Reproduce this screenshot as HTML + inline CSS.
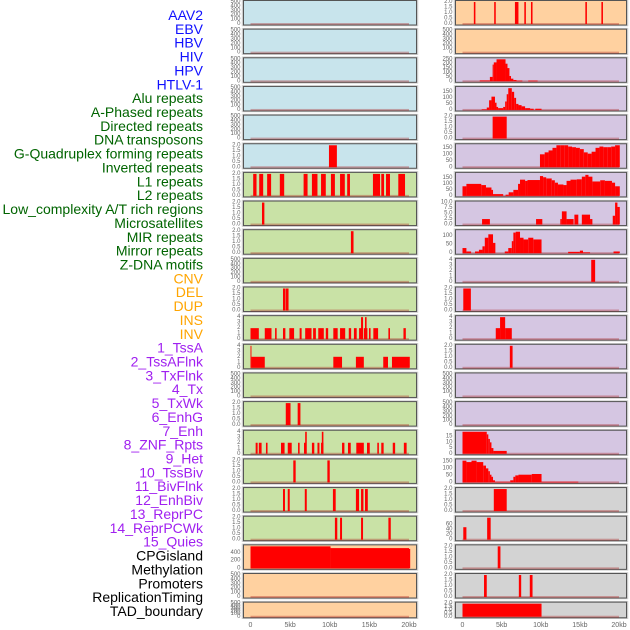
<!DOCTYPE html>
<html><head><meta charset="utf-8"><style>
body{margin:0;background:#fff;width:630px;height:630px;overflow:hidden}
svg{display:block}
</style></head><body>
<svg id="chart" width="630" height="630" xmlns="http://www.w3.org/2000/svg" font-family="Liberation Sans, sans-serif"></svg>
<script>
// ---------- data ----------
const X_TICK_KB = [0, 5, 10, 15, 20];
const X_TICK_LABELS = ["0", "5kb", "10kb", "15kb", "20kb"];
const ROW_LABELS = ["AAV2","EBV","HBV","HIV","HPV","HTLV-1","Alu repeats","A-Phased repeats","Directed repeats","DNA transposons","G-Quadruplex forming repeats","Inverted repeats","L1 repeats","L2 repeats","Low_complexity A/T rich regions","Microsatellites","MIR repeats","Mirror repeats","Z-DNA motifs","CNV","DEL","DUP","INS","INV","1_TssA","2_TssAFlnk","3_TxFlnk","4_Tx","5_TxWk","6_EnhG","7_Enh","8_ZNF_Rpts","9_Het","10_TssBiv","11_BivFlnk","12_EnhBiv","13_ReprPC","14_ReprPCWk","15_Quies","CPGisland","Methylation","Promoters","ReplicationTiming","TAD_boundary"];
const ROW_LABEL_GROUPS = [6, 13, 5, 15, 5];
const GROUP_COLORS = ["#1010ff", "#006400", "#ffa500", "#a020f0", "#000000"];

const TICKS_EMPTY = [0,100,200,300,400,500];
const TICKS_2 = [0,0.5,1,1.5,2];
const TICKS_4 = [0,1,2,3,4];

// segments: [startKb, endKb, value]
const segL5 = [[9.9,10.9,2]];
const segL6 = [[0.34,0.76,2],[1.1,1.6,2],[2.1,2.6,2],[3.7,4.25,2],[6.7,7.2,2],[7.75,8.45,2],[8.9,9.5,2],[10.15,10.65,2],[11.3,11.9,2],[12.2,12.55,2],[15.45,16.35,2],[16.5,16.85,2],[17.1,17.6,2],[18.65,19.5,2]];
const segL7 = [[1.45,1.75,2]];
const segL8 = [[12.67,13.0,2]];
const segL10 = [[4.1,4.4,2],[4.45,4.8,2]];
const segL11 = [[0,1.05,2],[1.8,2.65,2],[3.1,3.3,2],[4.1,4.4,2],[4.9,5.5,2],[6.2,6.45,2],[6.9,7.7,2],[7.9,8.25,2],[8.55,9.25,2],[9.5,9.8,2],[10.45,11.0,2],[11.3,11.95,2],[12.4,12.7,2],[13.05,13.4,2],[13.7,14.15,2],[13.95,14.2,4],[14.3,14.75,2],[14.45,14.65,4],[14.95,15.15,2],[15.5,16.1,2],[17.4,17.6,2],[19.3,19.6,2]];
const segL12 = [[0,0.12,4],[0.12,1.8,2],[10.45,11.55,2],[13.3,14.3,2],[16.75,17.35,2],[17.85,20.1,2]];
const segL14 = [[4.45,5.05,2],[5.95,6.3,2]];
const segL15 = [[0.65,0.9,2],[1.05,1.4,2],[1.95,2.15,2],[3.85,4.3,2],[4.7,5.2,2],[6.0,6.2,2],[6.75,7.05,2],[6.9,7.1,4],[7.75,8.05,2],[8.45,8.7,2],[8.9,9.2,2],[9.0,9.2,4],[11.55,11.85,2],[12.3,12.65,2],[13.35,14.3,2],[14.7,15.05,2],[16.0,16.2,2],[16.5,16.8,2],[17.95,18.25,2],[19.35,19.7,2]];
const segL16 = [[5.4,5.7,2],[9.7,10.0,2]];
const segL17 = [[4.1,4.35,2],[4.7,4.95,2],[6.85,7.1,2],[10.4,10.75,2],[13.3,13.7,2],[13.95,14.25,2],[14.45,14.8,2]];
const segL18 = [[10.65,10.95,2],[11.3,11.55,2],[13.95,14.2,2],[17.4,17.7,2]];
const segL19 = [[0,10.1,565],[10.1,20,520],[20,20.15,500]];

const segR0 = [[1.45,1.65,2],[4.05,4.25,2],[6.7,7.15,2],[7.9,8.1,2],[8.75,8.95,2],[15.7,15.9,2],[17.75,17.95,2]];
const segR2 = [[2.2,3.5,10],[3.5,3.85,50],[3.85,4.0,190],[4.0,4.35,215],[4.35,5.5,250],[5.5,5.75,200],[5.75,6.0,150],[6.0,6.2,60],[6.2,6.5,30],[6.5,6.9,15],[6.9,7.65,8],[8.4,9.6,8]];
const segR3 = [[2.45,3.1,5],[3.1,3.4,20],[3.4,3.7,80],[3.7,4.15,110],[4.15,4.35,60],[4.35,4.55,25],[4.55,5.2,15],[5.2,5.45,25],[5.45,5.65,70],[5.65,5.85,130],[5.85,6.3,180],[6.3,6.6,150],[6.6,6.85,100],[6.85,7.15,50],[7.15,7.55,40],[7.55,8.0,30],[8.0,8.65,15],[8.65,9.1,10],[9.3,10.1,10]];
const segR4 = [[3.85,5.65,2]];
const segR5 = [[9.9,10.5,100],[10.5,11,115],[11,11.5,130],[11.5,12,150],[12,12.5,180],[12.5,13,190],[13,13.5,185],[13.5,14,160],[14,14.5,155],[14.5,15,150],[15,15.5,140],[15.5,16,115],[16,16.5,105],[16.5,17,120],[17,17.5,150],[17.5,18,160],[18,18.5,155],[18.5,19,155],[19,19.5,160],[19.5,20.1,175]];
const segR6 = [[0,0.5,80],[0.5,2.4,100],[2.4,3.0,90],[3.0,3.7,70],[3.7,3.9,50],[3.9,5.2,15],[5.5,5.9,10],[5.9,6.5,30],[6.5,7.1,50],[7.1,7.35,100],[7.35,8.0,135],[8.0,8.3,125],[8.3,9.9,132],[9.9,10.3,165],[10.3,10.7,155],[10.7,11.4,145],[11.4,11.8,130],[11.8,12.2,110],[12.2,12.9,95],[12.9,13.3,90],[13.3,13.8,125],[13.8,14.6,135],[14.6,15.25,138],[15.25,15.7,160],[15.7,16.1,175],[16.1,16.6,160],[16.6,17.6,120],[17.6,18.2,130],[18.2,19.1,125],[19.1,19.5,110],[19.5,20.1,80]];
const segR7 = [[2.5,3.5,2.5],[9.4,10.2,2.5],[12.5,12.7,2.5],[12.7,13.3,6],[13.3,14.2,2.5],[14.3,14.8,4.5],[15.25,16.3,4.5],[16.3,16.6,2.5],[19.2,19.5,4],[19.5,19.8,10],[19.8,20.1,8]];
const segR8 = [[0,0.5,30],[0.5,1.1,10],[1.6,2.1,10],[2.1,2.55,20],[2.55,2.85,40],[2.85,3.3,90],[3.3,3.9,110],[3.9,4.2,60],[5.4,5.85,10],[5.85,6.3,30],[6.3,6.5,70],[6.5,6.8,120],[6.8,7.35,125],[7.35,7.8,90],[7.8,8.4,80],[8.4,9.05,90],[9.05,10.1,80],[13.5,15.0,8],[15.0,15.4,15],[15.4,16.3,5],[19.3,20.1,10]];
const segR9 = [[16.45,16.95,4]];
const segR10 = [[0.1,1.07,2]];
const segR11 = [[4.25,4.8,2],[4.8,5.45,4],[5.45,6.3,2]];
const segR12 = [[6.05,6.4,2]];
const segR15 = [[0,3.1,20],[3.1,3.3,17],[3.3,3.5,13],[3.5,3.7,10],[3.7,3.95,5],[3.95,5.65,2.5]];
const segR16 = [[0,0.5,155],[0.5,1.15,145],[1.15,1.8,155],[1.8,2.65,145],[2.65,3.0,120],[3.0,3.3,100],[3.3,3.5,80],[3.5,3.7,55],[3.7,3.9,40],[3.9,4.15,15],[4.15,6.1,5],[6.1,6.5,15],[6.5,6.75,40],[6.75,7.15,50],[7.15,8.85,55],[8.85,10.1,60],[10.1,14.8,5]];
const segR17 = [[4.0,5.65,2]];
const segR18 = [[0.1,0.5,50],[3.15,3.6,90]];
const segR19 = [[4.5,4.85,2]];
const segR20 = [[2.75,3.1,2],[7.2,7.5,2],[8.6,8.95,2]];
const segR21 = [[0,10.1,2]];

// ---------- layout / styles ----------
const BLUE="#c8e4ec", GREEN="#c9e2a6", ORANGE="#ffd1a0", PURPLE="#d5c6e2", GRAY="#d3d3d3";
const leftPanels = [
 [BLUE,[],500,TICKS_EMPTY,"L0"],[BLUE,[],500,TICKS_EMPTY,"L1"],[BLUE,[],500,TICKS_EMPTY,"L2"],[BLUE,[],500,TICKS_EMPTY,"L3"],[BLUE,[],500,TICKS_EMPTY,"L4"],
 [BLUE,segL5,2,TICKS_2,"L5"],[GREEN,segL6,2,TICKS_2,"L6"],[GREEN,segL7,2,TICKS_2,"L7"],[GREEN,segL8,2,TICKS_2,"L8"],[GREEN,[],500,TICKS_EMPTY,"L9"],
 [GREEN,segL10,2,TICKS_2,"L10"],[GREEN,segL11,4,TICKS_4,"L11"],[GREEN,segL12,4,TICKS_4,"L12"],[GREEN,[],500,TICKS_EMPTY,"L13"],[GREEN,segL14,2,TICKS_2,"L14"],
 [GREEN,segL15,4,TICKS_4,"L15"],[GREEN,segL16,2,TICKS_2,"L16"],[GREEN,segL17,2,TICKS_2,"L17"],[GREEN,segL18,2,TICKS_2,"L18"],[ORANGE,segL19,565,[0,200,400],"L19"],
 [ORANGE,[],500,TICKS_EMPTY,"L20"],[ORANGE,[],500,TICKS_EMPTY,"L21"]];
const rightPanels = [
 [ORANGE,segR0,2,TICKS_2,"R0"],[ORANGE,[],500,TICKS_EMPTY,"R1"],[PURPLE,segR2,250,[0,50,100,150,200,250],"R2"],[PURPLE,segR3,182,[0,50,100,150],"R3"],[PURPLE,segR4,2,TICKS_2,"R4"],
 [PURPLE,segR5,170,[0,50,100,150],"R5"],[PURPLE,segR6,183,[0,50,100,150],"R6"],[PURPLE,segR7,10,[0,2.5,5,7.5,10],"R7"],[PURPLE,segR8,128,[0,50,100],"R8"],[PURPLE,segR9,4,TICKS_4,"R9"],
 [PURPLE,segR10,2,TICKS_2,"R10"],[PURPLE,segR11,4,TICKS_4,"R11"],[PURPLE,segR12,2,TICKS_2,"R12"],[PURPLE,[],500,TICKS_EMPTY,"R13"],[PURPLE,[],500,TICKS_EMPTY,"R14"],
 [PURPLE,segR15,19.3,[0,5,10,15],"R15"],[PURPLE,segR16,157,[0,50,100,150],"R16"],[GRAY,segR17,2,TICKS_2,"R17"],[GRAY,segR18,88,[0,20,40,60],"R18"],[GRAY,segR19,2,TICKS_2,"R19"],
 [GRAY,segR20,2,TICKS_2,"R20"],[GRAY,segR21,2,TICKS_2,"R21"]];

const NS="http://www.w3.org/2000/svg";
const svg=document.getElementById('chart');
function mk(tag,attrs,parent){const e=document.createElementNS(NS,tag);for(const k in attrs)e.setAttribute(k,attrs[k]);(parent||svg).appendChild(e);return e;}

// row labels
let idx=0;
ROW_LABEL_GROUPS.forEach((n,g)=>{for(let j=0;j<n;j++){const t=mk('text',{x:203,y:15+idx*13.86,'text-anchor':'end','dominant-baseline':'central','font-size':14,fill:GROUP_COLORS[g]});


t.textContent=ROW_LABELS[idx];idx++;}});

function fmt(v,ticks){const dec=ticks.some(t=>t%1!==0);return dec?v.toFixed(1):String(v);}

function drawPanel(p,row,bx,bw,x0,x1){
  const top=28.65*row+0.5, h=row<21?24.5:15.6;
  const [bg,segs,ymax,ticks,id]=p;
  const g=mk('g',{});
  
  
  mk('rect',{x:bx-1,y:top-0.5,width:bw+2,height:h+1,fill:'none',stroke:'#ccc','stroke-width':1.5},g);
  mk('rect',{x:bx,y:top,width:bw,height:h,fill:bg,stroke:'#555','stroke-width':1},g);
  const xs=kb=>x0+kb*(x1-x0)/20;
  const y0=top+h-1, ys=v=>y0-Math.min(v,ymax)/ymax*(h-2.5);
  mk('rect',{x:xs(0),y:y0-1,width:xs(20)-xs(0),height:2,fill:'rgba(170,30,30,0.35)'},g);
  segs.forEach(s=>{const r=mk('rect',{x:xs(s[0]),y:ys(s[2]),width:Math.max(0.8,xs(s[1])-xs(s[0])),height:y0-ys(s[2]),fill:'#ff0000'},g);
    
    });
  ticks.forEach(t=>{const tx=mk('text',{x:bx-3,y:ys(t),'text-anchor':'end','dominant-baseline':'central','font-size':6,fill:'#666'},g);
    
    
    tx.textContent=fmt(t,ticks);});
}
leftPanels.forEach((p,i)=>drawPanel(p,i,243.5,173,250.5,409));
rightPanels.forEach((p,i)=>drawPanel(p,i,455.5,171,462.5,619));

[[250.5,409],[462.5,619]].forEach(([x0,x1])=>{X_TICK_KB.forEach((kb,i)=>{const t=mk('text',{x:x0+kb*(x1-x0)/20,y:627,'text-anchor':'middle','font-size':7,fill:'#666'});
  
  
  t.textContent=X_TICK_LABELS[i];});});
</script>
</body></html>
